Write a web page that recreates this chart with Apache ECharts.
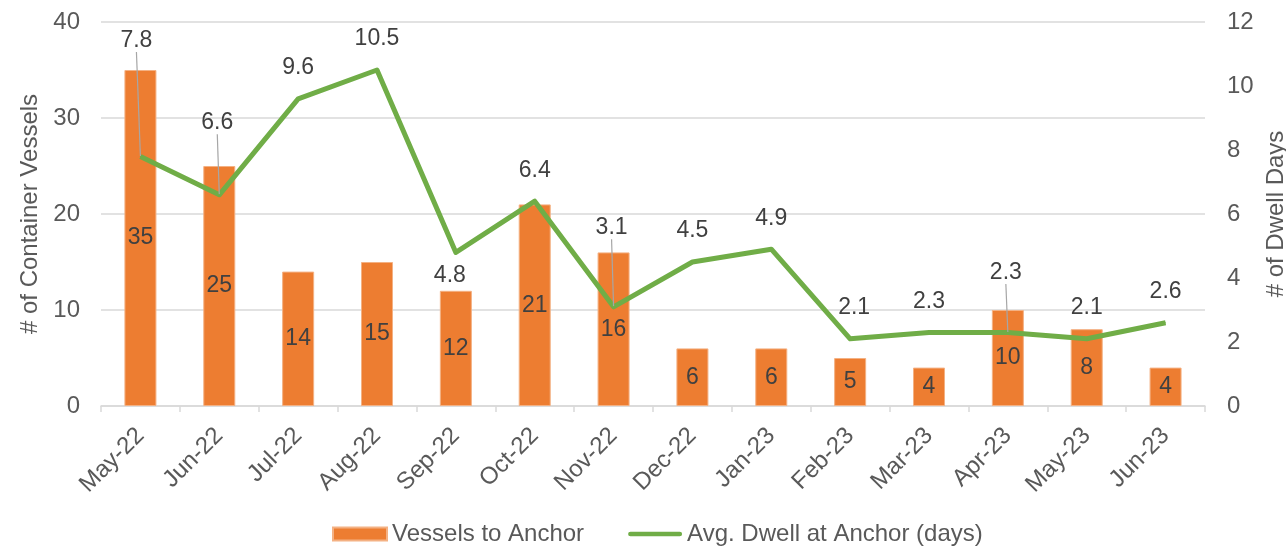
<!DOCTYPE html>
<html>
<head>
<meta charset="utf-8">
<script src="https://cdn.jsdelivr.net/npm/echarts@6/dist/echarts.min.js"></script>
<style>
  html, body { margin: 0; padding: 0; background: #fff; }
  #chart { width: 1286px; height: 550px; }
</style>
</head>
<body>
<div id="chart"></div>
<script>
const months = ['May-22', 'Jun-22', 'Jul-22', 'Aug-22', 'Sep-22', 'Oct-22', 'Nov-22',
    'Dec-22', 'Jan-23', 'Feb-23', 'Mar-23', 'Apr-23', 'May-23', 'Jun-23']
const vessels = [35, 25, 14, 15, 12, 21, 16, 6, 6, 5, 4, 10, 8, 4]
const dwellDays = [7.8, 6.6, 9.6, 10.5, 4.8, 6.4, 3.1, 4.5, 4.9, 2.1, 2.3, 2.3, 2.1, 2.6]

const FONT = '"Liberation Sans", Arial, sans-serif'
const AXIS_TEXT = '#595959'
const LABEL_TEXT = '#404040'

// labels that were dragged away from their point (leader line where `line` is set)
const movedLabels = {
    0: { dx: -4, dy: -85, line: true },
    1: { dx: -2, dy: -41, line: true },
    4: { dx: -6, dy: 54, line: false },
    6: { dx: -2, dy: -48, line: true },
    9: { dx: 4, dy: 0, line: false },
    11: { dx: -2, dy: -29, line: true }
}

const lineData = dwellDays.map((v, i) => {
    if (movedLabels[i] && movedLabels[i].line) {
        return { value: v, labelLine: { show: true } }
    }
    return v
})

const chart = echarts.init(document.getElementById('chart'))

const options = {
    animation: false,
    textStyle: { fontFamily: FONT },
    grid: {
        left: 101,
        right: 81,
        top: 22,
        bottom: 144,
        containLabel: false,
        outerBoundsMode: 'none'
    },
    legend: {
        left: 332,
        top: 522,
        padding: 0,
        itemGap: 44,
        itemWidth: 54,
        itemHeight: 13,
        textStyle: { fontFamily: FONT, fontSize: 24, color: AXIS_TEXT },
        data: [
            { name: 'Vessels to Anchor', icon: 'rect' },
            { name: 'Avg. Dwell at Anchor (days)', icon: 'path://M2.5,0 L54.5,0 A2.5,2.5 0 0 1 54.5,5 L2.5,5 A2.5,2.5 0 0 1 2.5,0 Z' }
        ]
    },
    xAxis: {
        type: 'category',
        data: months,
        axisLine: { lineStyle: { color: '#D9D9D9', width: 1.5 } },
        axisTick: { show: true, length: 6, lineStyle: { color: '#D9D9D9', width: 1.5 } },
        axisLabel: {
            rotate: 45,
            margin: 26,
            fontSize: 24,
            color: AXIS_TEXT,
            fontFamily: FONT,
            interval: 0
        }
    },
    yAxis: [
        {
            type: 'value',
            min: 0,
            max: 40,
            interval: 10,
            name: '# of Container Vessels',
            nameLocation: 'middle',
            nameRotate: 90,
            nameGap: 56,
            nameTextStyle: { fontSize: 24, color: AXIS_TEXT, fontFamily: FONT },
            axisLine: { show: false },
            axisTick: { show: false },
            axisLabel: { fontSize: 24, color: AXIS_TEXT, margin: 21, fontFamily: FONT },
            splitLine: { lineStyle: { color: '#D9D9D9', width: 1.5 } }
        },
        {
            type: 'value',
            min: 0,
            max: 12,
            interval: 2,
            position: 'right',
            name: '# of Dwell Days',
            nameLocation: 'middle',
            nameRotate: 90,
            nameGap: 54,
            nameTextStyle: { fontSize: 24, color: AXIS_TEXT, fontFamily: FONT },
            axisLine: { show: false },
            axisTick: { show: false },
            axisLabel: { fontSize: 24, color: AXIS_TEXT, margin: 22, fontFamily: FONT },
            splitLine: { show: false }
        }
    ],
    series: [
        {
            name: 'Vessels to Anchor',
            type: 'bar',
            data: vessels,
            barWidth: 32,
            itemStyle: { color: '#ED7D31', borderColor: '#F4B183', borderWidth: 1 },
            label: {
                show: true,
                position: 'inside',
                fontSize: 23,
                color: LABEL_TEXT,
                fontFamily: FONT
            }
        },
        {
            name: 'Avg. Dwell at Anchor (days)',
            type: 'line',
            yAxisIndex: 1,
            data: lineData,
            symbol: 'circle',
            symbolSize: 1,
            showSymbol: true,
            itemStyle: { color: '#70AD47' },
            lineStyle: { color: '#70AD47', width: 5, join: 'round' },
            label: {
                show: true,
                position: 'top',
                distance: 19,
                fontSize: 23,
                color: LABEL_TEXT,
                fontFamily: FONT
            },
            labelLine: {
                show: false,
                lineStyle: { color: '#A6A6A6', width: 1.2 }
            },
            labelLayout: function (params) {
                const m = movedLabels[params.dataIndex]
                if (m) return { dx: m.dx, dy: m.dy }
                return {}
            },
            z: 3
        }
    ]
}

chart.setOption(options)
</script>
</body>
</html>
